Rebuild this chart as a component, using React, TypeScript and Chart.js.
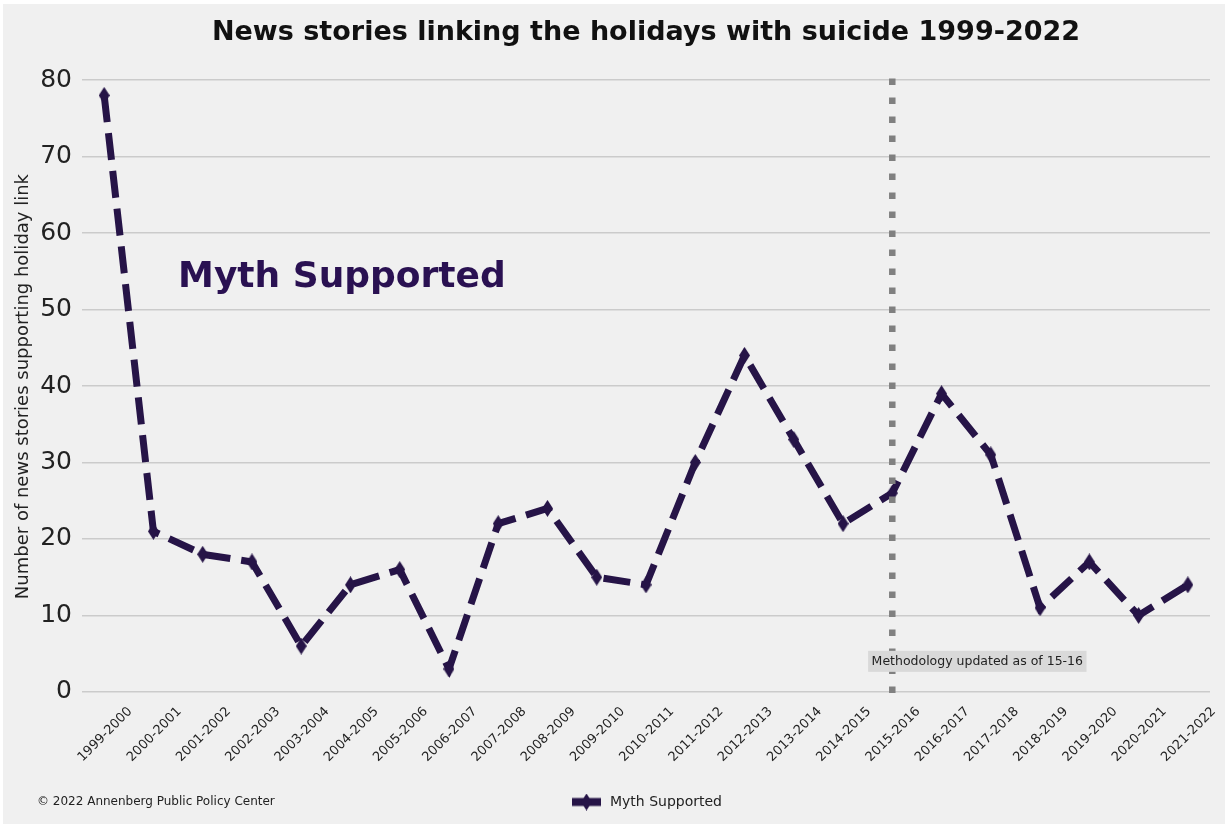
import React, { useEffect, useRef } from 'react';
import { Chart, registerables } from 'chart.js';

Chart.register(...registerables);

// ---- data ----
const categories = [
  '1999-2000', '2000-2001', '2001-2002', '2002-2003', '2003-2004', '2004-2005',
  '2005-2006', '2006-2007', '2007-2008', '2008-2009', '2009-2010', '2010-2011',
  '2011-2012', '2012-2013', '2013-2014', '2014-2015', '2015-2016', '2016-2017',
  '2017-2018', '2018-2019', '2019-2020', '2020-2021', '2021-2022',
];
const mythSupported = [78, 21, 18, 17, 6, 14, 16, 3, 22, 24, 15, 14, 30, 44, 33, 22, 26, 39, 31, 11, 17, 10, 14];
const yTicks = [0, 10, 20, 30, 40, 50, 60, 70, 80];
const methodologyIndex = 16;
const methodologyNote = 'Methodology updated as of 15-16';
const seriesLabel = 'Myth Supported';
const chartTitle = 'News stories linking the holidays with suicide 1999-2022';
const yAxisTitle = 'Number of news stories supporting holiday link';
const bigLabel = 'Myth Supported';
const copyrightText = '© 2022 Annenberg Public Policy Center';

const LINE = '#261447';
const FONT = "'DejaVu Sans', 'Noto Sans', sans-serif";
const BG = '#f0f0f0';

function makeDiamond(w: number, h: number, color: string) {
  const c = document.createElement('canvas');
  c.width = w;
  c.height = h;
  const ctx = c.getContext('2d')!;
  ctx.fillStyle = color;
  ctx.beginPath();
  ctx.moveTo(w / 2, 0);
  ctx.lineTo(w, h / 2);
  ctx.lineTo(w / 2, h);
  ctx.lineTo(0, h / 2);
  ctx.closePath();
  ctx.fill();
  return c;
}

function makeLegendIcon(color: string) {
  const w = 29, h = 17;
  const c = document.createElement('canvas');
  c.width = w;
  c.height = h;
  const ctx = c.getContext('2d')!;
  ctx.fillStyle = color;
  ctx.fillRect(0, h / 2 - 4, w, 8);
  ctx.beginPath();
  ctx.moveTo(w / 2, 0);
  ctx.lineTo(w / 2 + 5.5, h / 2);
  ctx.lineTo(w / 2, h);
  ctx.lineTo(w / 2 - 5.5, h / 2);
  ctx.closePath();
  ctx.fill();
  return c;
}

export default function App() {
  const ref = useRef<HTMLCanvasElement | null>(null);

  useEffect(() => {
    if (!ref.current) return;
    const diamond = makeDiamond(11, 17, LINE);
    const legendIcon = makeLegendIcon(LINE);

    const decorations = {
      id: 'decorations',
      beforeDraw(chart: any) {
        const { ctx, width, height } = chart;
        ctx.save();
        ctx.fillStyle = BG;
        ctx.fillRect(0, 0, width, height);
        ctx.restore();
      },
      afterDatasetsDraw(chart: any) {
        const { ctx, chartArea } = chart;
        const xs = chart.scales.x;
        const ys = chart.scales.y;
        ctx.save();
        // vertical dotted line
        const vx = xs.getPixelForValue(methodologyIndex);
        ctx.strokeStyle = '#808080';
        ctx.lineWidth = 6.5;
        ctx.setLineDash([6.5, 12.5]);
        ctx.lineDashOffset = 19 - 0.5;
        ctx.beginPath();
        ctx.moveTo(vx, chartArea.top);
        ctx.lineTo(vx, chartArea.bottom);
        ctx.stroke();
        ctx.setLineDash([]);

        // note box
        ctx.font = `12.5px ${FONT}`;
        const tx = xs.getPixelForValue(15.58);
        const ty = ys.getPixelForValue(4);
        const tw = ctx.measureText(methodologyNote).width;
        ctx.fillStyle = '#d9d9d9';
        ctx.fillRect(tx - 3.5, ty - 10.5, tw + 7, 21);
        ctx.fillStyle = '#222222';
        ctx.textBaseline = 'middle';
        ctx.textAlign = 'left';
        ctx.fillText(methodologyNote, tx, ty);

        // big label
        ctx.font = `bold 36px ${FONT}`;
        ctx.fillStyle = '#2a1152';
        ctx.textBaseline = 'alphabetic';
        ctx.fillText(bigLabel, xs.getPixelForValue(1.5), ys.getPixelForValue(53));
        ctx.restore();
      },
      afterDraw(chart: any) {
        const { ctx } = chart;
        ctx.save();
        ctx.font = `12px ${FONT}`;
        ctx.fillStyle = '#222222';
        ctx.textBaseline = 'middle';
        ctx.textAlign = 'left';
        ctx.fillText(copyrightText, 34, 798);
        ctx.restore();
      },
    };

    const chart = new Chart(ref.current, {
      type: 'line',
      data: {
        datasets: [
          {
            label: seriesLabel,
            data: mythSupported.map((v, i) => ({ x: i, y: v })),
            borderColor: LINE,
            backgroundColor: LINE,
            borderWidth: 7,
            borderDash: [27, 11],
            borderCapStyle: 'butt',
            tension: 0,
            fill: false,
            pointStyle: diamond as any,
            pointRadius: 8,
            pointBackgroundColor: LINE,
            pointBorderColor: LINE,
            clip: false as any,
          },
        ],
      },
      options: {
        responsive: false,
        animation: false,
        devicePixelRatio: 1,
        layout: { padding: { left: 0, right: 15, top: 0, bottom: 5 } },
        plugins: {
          title: {
            display: true,
            text: chartTitle,
            fullSize: false,
            color: '#111111',
            font: { family: FONT, size: 27, weight: 'bold' },
            padding: { top: 12.5, bottom: 29.2 },
          },
          legend: {
            display: true,
            position: 'bottom',
            fullSize: false,
            labels: {
              usePointStyle: true,
              pointStyleWidth: 33,
              padding: 10,
              color: '#222222',
              font: { family: FONT, size: 14 },
              generateLabels: () => [
                {
                  text: seriesLabel,
                  pointStyle: legendIcon as any,
                  fillStyle: LINE,
                  strokeStyle: LINE,
                  lineWidth: 0,
                  hidden: false,
                  datasetIndex: 0,
                  fontColor: '#222222',
                } as any,
              ],
            },
          },
          tooltip: { enabled: false },
        },
        scales: {
          x: {
            type: 'linear',
            min: -0.45,
            max: 22.45,
            grid: { display: false, drawTicks: false },
            border: { display: false },
            afterBuildTicks: (axis: any) => {
              axis.ticks = categories.map((_, i) => ({ value: i }));
            },
            afterFit: (axis: any) => {
              axis.height = 90;
            },
            ticks: {
              autoSkip: false,
              maxRotation: 45,
              minRotation: 45,
              padding: 9,
              labelOffset: 26,
              color: '#222222',
              font: { family: FONT, size: 13 },
              callback: (v: any) => categories[Math.round(Number(v))] ?? '',
            },
          },
          y: {
            type: 'linear',
            min: -0.4,
            max: 80.26,
            grid: { color: '#cbcbcb', lineWidth: 1.5, drawTicks: false },
            border: { display: false },
            afterBuildTicks: (axis: any) => {
              axis.ticks = yTicks.map((v) => ({ value: v }));
            },
            afterFit: (axis: any) => {
              axis.width = 79;
            },
            ticks: {
              padding: 10,
              color: '#222222',
              font: { family: FONT, size: 25 },
              callback: (v: any) => String(v),
            },
            title: {
              display: true,
              text: yAxisTitle,
              color: '#222222',
              font: { family: FONT, size: 18 },
              padding: { top: 9.5, bottom: 0 },
            },
          },
        },
      },
      plugins: [decorations],
    } as any);

    return () => chart.destroy();
  }, []);

  return (
    <div style={{ position: 'fixed', left: 0, top: 0, width: 1225, height: 824, background: '#ffffff', overflow: 'hidden' }}>
      <canvas
        ref={ref}
        width={1222}
        height={820}
        style={{ position: 'absolute', left: 3, top: 4, width: 1222, height: 820 }}
      />
    </div>
  );
}
